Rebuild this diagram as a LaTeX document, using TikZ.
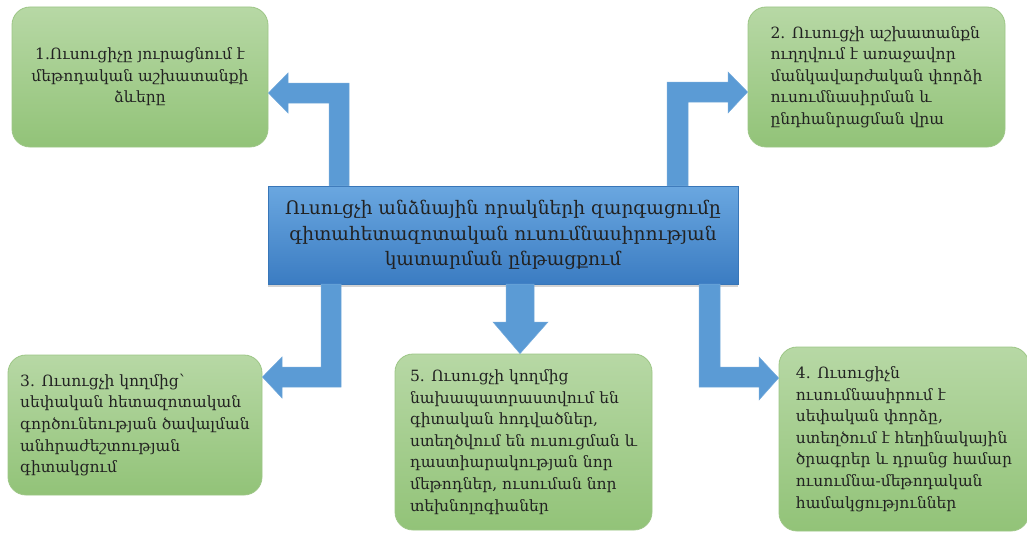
\documentclass[tikz,border=0pt]{standalone}
\usepackage{fontspec}
\setmainfont{DejaVu Serif}
\usetikzlibrary{shadows}
\definecolor{gtop}{HTML}{B7D8A5}
\definecolor{gbot}{HTML}{92C378}
\definecolor{gline}{HTML}{9DC686}
\definecolor{btop}{HTML}{6AA7E0}
\definecolor{bbot}{HTML}{3B7CC2}
\definecolor{arrowblue}{HTML}{5B9BD5}
\definecolor{txt}{HTML}{222222}
\tikzset{
  greenbox/.style={draw=gline, line width=0.8pt, rounded corners=18pt,
    top color=gtop, bottom color=gbot, text=txt, inner sep=0pt,
    font=\fontsize{15.5}{21.6}\selectfont},
  mainbox/.style={draw=bbot!95!black, line width=0.4pt, top color=btop, bottom color=bbot,
    text=txt, inner sep=0pt, drop shadow={opacity=0.35, shadow xshift=0pt, shadow yshift=-3pt},
    font=\fontsize{18.6}{25.5}\selectfont},
  bluearrow/.style={fill=arrowblue, draw=arrowblue!85!white, line width=0.5pt, line join=miter}
}
\begin{document}
\begin{tikzpicture}[x=1pt,y=-1pt]
\useasboundingbox (0,0) rectangle (1027,535);
\node[mainbox, minimum width=470pt, minimum height=98pt, align=center] (main) at (503,235)
  {Ուսուցչի անձնային որակների զարգացումը\\գիտահետազոտական ուսումնասիրության\\կատարման ընթացքում};
\node[greenbox, minimum width=256pt, minimum height=140pt, align=center] (b1) at (140,77)
  {1.Ուսուցիչը յուրացնում է\\մեթոդական աշխատանքի\\ձևերը};
\node[greenbox, minimum width=257pt, minimum height=140pt, align=left] (b2) at (876.5,77)
  {2. Ուսուցչի աշխատանքն\\ուղղվում է առաջավոր\\մանկավարժական փորձի\\ուսումնասիրման և\\ընդհանրացման վրա};
\node[greenbox, minimum width=254pt, minimum height=140pt, align=left] (b3) at (135,425)
  {3. Ուսուցչի կողմից՝\\սեփական հետազոտական\\գործունեության ծավալման\\անհրաժեշտության\\գիտակցում};
\node[greenbox, minimum width=257pt, minimum height=176pt, align=left] (b5) at (523.5,442)
  {5. Ուսուցչի կողմից\\նախապատրաստվում են\\գիտական հոդվածներ,\\ստեղծվում են ուսուցման և\\դաստիարակության նոր\\մեթոդներ, ուսուման նոր\\տեխնոլոգիաներ};
\node[greenbox, minimum width=250pt, minimum height=184pt, align=left] (b4) at (904,439)
  {4. Ուսուցիչն\\ուսումնասիրում է\\սեփական փորձը,\\ստեղծում է հեղինակային\\ծրագրեր և դրանց համար\\ուսումնա-մեթոդական\\համակցություններ};
% arrow 1 (up then left)
\draw[bluearrow] (349,0 |- main.north) -- (349,83) -- (288,83) -- (288,73) -- (b1.east |- 0,93)
  -- (288,113) -- (288,103) -- (329,103) -- (329,0 |- main.north) -- cycle;
% arrow 2 (up then right)
\draw[bluearrow] (667,0 |- main.north) -- (667,82) -- (728,82) -- (728,72) -- (b2.west |- 0,92)
  -- (728,113) -- (728,102) -- (688,102) -- (688,0 |- main.north) -- cycle;
% arrow 3 (down then left)
\draw[bluearrow] (341,0 |- main.south) -- (341,387) -- (282,387) -- (282,398) -- (b3.east |- 0,377)
  -- (282,357) -- (282,367) -- (321,367) -- (321,0 |- main.south) -- cycle;
% arrow 5 (down)
\draw[bluearrow] (506,0 |- main.south) -- (506,322) -- (493,322) -- (520,0 |- b5.north)
  -- (548,322) -- (534,322) -- (534,0 |- main.south) -- cycle;
% arrow 4 (down then right)
\draw[bluearrow] (699,0 |- main.south) -- (699,387) -- (759,387) -- (759,400) -- (b4.west |- 0,378)
  -- (759,357) -- (759,367) -- (720,367) -- (720,0 |- main.south) -- cycle;
\end{tikzpicture}
\end{document}
